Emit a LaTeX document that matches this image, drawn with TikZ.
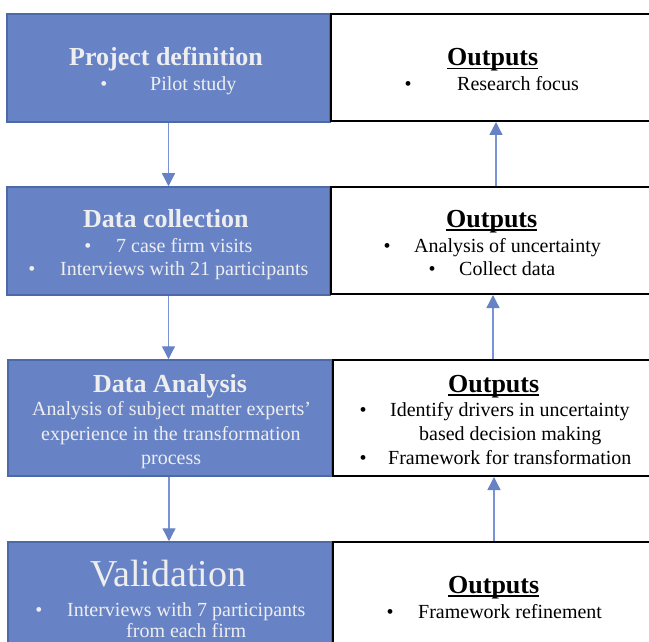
\documentclass[tikz,border=0pt]{standalone}
\usepackage{fontspec}
\setmainfont{Liberation Serif}
\usetikzlibrary{arrows.meta}
\definecolor{boxblue}{HTML}{6783C6}
\definecolor{boxedge}{HTML}{4C6AA8}
\definecolor{arrblue}{HTML}{7894D6}
\definecolor{lighttext}{HTML}{EEEEEE}
\newcommand\ulout[1]{\setbox0\hbox{#1}\rlap{\rule[-3.5pt]{\wd0}{1.8pt}}\box0}
\tikzset{
  bluebox/.style={draw=boxedge, line width=1.5pt, fill=boxblue, inner sep=0pt},
  whitebox/.style={draw=black, line width=2pt, fill=white, inner sep=0pt},
  arr/.style={draw=arrblue, line width=1.3pt, -{Triangle[width=13pt,length=13pt,color=boxblue,fill=boxblue]}},
  ttl/.style={anchor=base west, inner sep=0pt, font=\fontsize{26}{30}\selectfont\bfseries},
  btxt/.style={anchor=base west, inner sep=0pt, font=\fontsize{20}{24}\selectfont},
  bul/.style={anchor=base, inner sep=0pt, font=\fontsize{20}{24}\selectfont},
  lt/.style={text=lighttext},
}
\begin{document}
\begin{tikzpicture}[x=1pt,y=-1pt]
\useasboundingbox (0,0) rectangle (649,642);
\clip (0,0) rectangle (649,642);
% boxes
\node[bluebox, minimum width=323pt, minimum height=108pt] (b1) at (168.5,68) {};
\node[whitebox, minimum width=325pt, minimum height=107pt] (w1) at (493.5,67.5) {};
\node[bluebox, minimum width=323pt, minimum height=108pt] (b2) at (168.5,241) {};
\node[whitebox, minimum width=325pt, minimum height=107pt] (w2) at (493.5,240.5) {};
\node[bluebox, minimum width=324pt, minimum height=116pt] (b3) at (170,418) {};
\node[whitebox, minimum width=323pt, minimum height=116pt] (w3) at (494.5,418) {};
\node[bluebox, minimum width=324pt, minimum height=108pt] (b4) at (170,596) {};
\node[whitebox, minimum width=323pt, minimum height=108pt] (w4) at (494.5,596) {};
% connectors
\draw[arr] (b1.south) -- (b1.south |- b2.north);
\draw[arr] (b2.south) -- (b2.south |- b3.north);
\draw[arr] ([xshift=-1pt]b3.south) -- ([xshift=-1pt]b3.south |- b4.north);
\draw[arr] ([xshift=2.5pt]w2.north) -- ([xshift=2.5pt]w2.north |- w1.south);
\draw[arr] ([xshift=-1.5pt]w3.north) -- ([xshift=-1.5pt]w3.north |- w2.south);
\draw[arr] ([xshift=-0.5pt]w4.north) -- ([xshift=-0.5pt]w4.north |- w3.south);
% box 1
\node[ttl, lt] (t1) at (69,66) {Project definition};
\node[bul, lt] (t1b) at (104,91) {•};
\node[btxt, lt] (t1a) at (150,91) {Pilot study};
\node[ttl] (o1) at (447,66) {\ulout{Outputs}};
\node[bul] (o1b) at (408,91) {•};
\node[btxt] (o1a) at (457,91) {Research focus};
% box 2
\node[ttl, lt] (t2) at (83,227) {Data collection};
\node[bul, lt] (t2b) at (88,252) {•};
\node[btxt, lt] (t2a) at (116,252) {7 case firm visits};
\node[bul, lt] (t2d) at (32,275) {•};
\node[btxt, lt] (t2c) at (60,275) {Interviews with 21 participants};
\node[ttl] (o2) at (446,227) {\ulout{Outputs}};
\node[bul] (o2b) at (387,252) {•};
\node[btxt] (o2a) at (414,252) {Analysis of uncertainty};
\node[bul] (o2d) at (432,275) {•};
\node[btxt] (o2c) at (459,275) {Collect data};
% box 3
\node[ttl, lt] (t3) at (93,392) {Data Analysis};
\node[btxt, lt] (t3a) at (32,415) {Analysis of subject matter experts’};
\node[btxt, lt] (t3b) at (41,440) {experience in the transformation};
\node[btxt, lt] (t3c) at (141,464) {process};
\node[ttl] (o3) at (448,392) {\ulout{Outputs}};
\node[bul] (o3b) at (363,416) {•};
\node[btxt] (o3a) at (390,416) {Identify drivers in uncertainty};
\node[btxt] (o3c) at (419,440) {based decision making};
\node[bul] (o3e) at (363,464) {•};
\node[btxt] (o3d) at (388,464) {Framework for transformation};
% box 4
\node[anchor=base west, inner sep=0pt, font=\fontsize{38}{44}\selectfont, lt] (t4) at (90,586) {Validation};
\node[bul, lt] (t4b) at (39,616) {•};
\node[btxt, lt] (t4a) at (67,616) {Interviews with 7 participants};
\node[btxt, lt] (t4c) at (126,637) {from each firm};
\node[ttl] (o4) at (448,593) {\ulout{Outputs}};
\node[bul] (o4b) at (390,618) {•};
\node[btxt] (o4a) at (418,618) {Framework refinement};
\end{tikzpicture}
\end{document}
